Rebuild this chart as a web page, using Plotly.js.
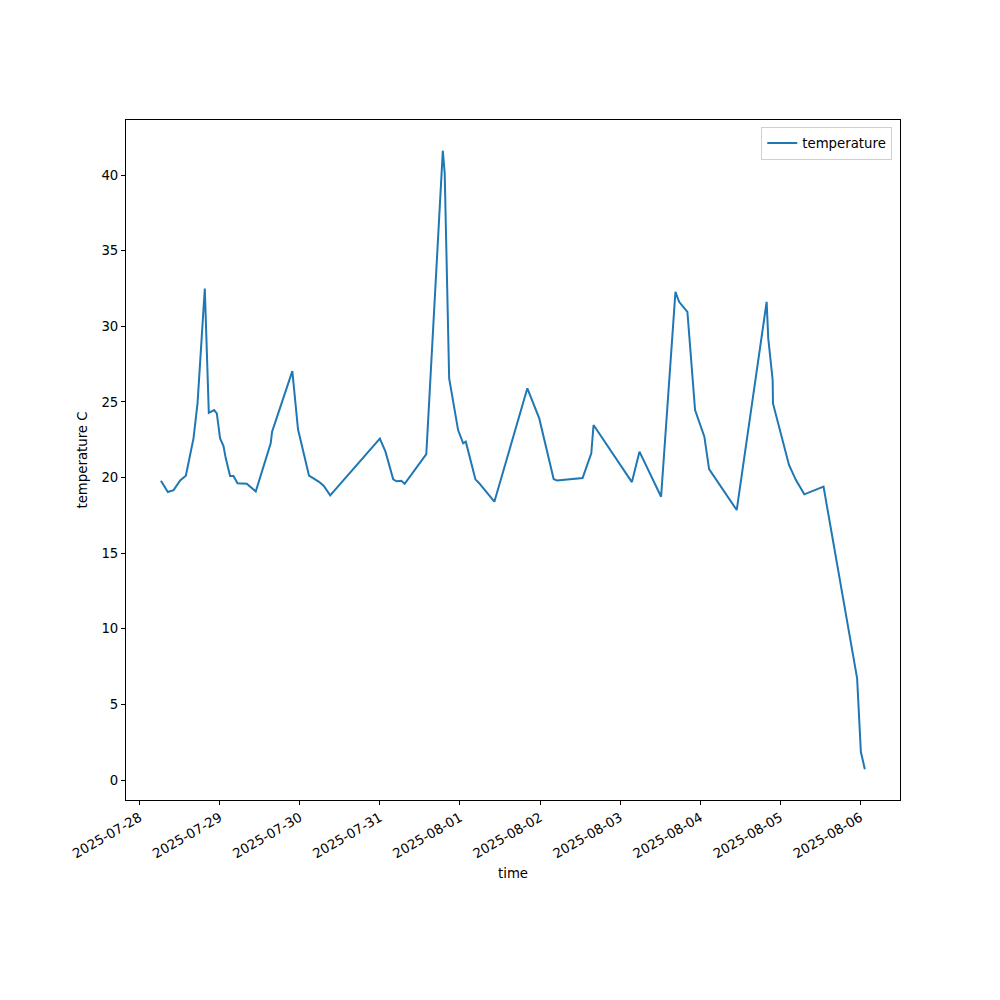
<!DOCTYPE html>
<html>
<head>
<meta charset="utf-8">
<script src="https://cdn.plot.ly/plotly-3.0.1.min.js"></script>
<style>html,body{margin:0;padding:0;background:#fff;}#chart{width:1000px;height:1000px;}</style>
</head>
<body>
<div id="chart"></div>
<script>
const times = [
  "2025-07-28 06:23","2025-07-28 08:28","2025-07-28 10:11","2025-07-28 12:09","2025-07-28 13:51",
  "2025-07-28 16:09","2025-07-28 17:21","2025-07-28 19:32","2025-07-28 20:44","2025-07-28 22:19",
  "2025-07-28 23:08","2025-07-29 00:07","2025-07-29 01:08","2025-07-29 01:49","2025-07-29 03:07",
  "2025-07-29 04:08","2025-07-29 05:20","2025-07-29 08:07","2025-07-29 10:48","2025-07-29 15:17",
  "2025-07-29 15:42","2025-07-29 21:46","2025-07-29 23:28","2025-07-30 02:46","2025-07-30 05:46",
  "2025-07-30 07:12","2025-07-30 09:07","2025-07-31 00:00","2025-07-31 01:41","2025-07-31 03:00",
  "2025-07-31 04:00","2025-07-31 05:02","2025-07-31 06:24","2025-07-31 07:26","2025-07-31 13:55",
  "2025-07-31 18:52","2025-07-31 19:26","2025-07-31 20:46","2025-07-31 23:27","2025-08-01 00:58",
  "2025-08-01 01:45","2025-08-01 04:38","2025-08-01 05:38","2025-08-01 10:19","2025-08-01 20:12",
  "2025-08-01 23:46","2025-08-02 04:05","2025-08-02 05:05","2025-08-02 12:45","2025-08-02 15:22",
  "2025-08-02 16:02","2025-08-03 03:32","2025-08-03 05:48","2025-08-03 12:17","2025-08-03 16:35",
  "2025-08-03 17:41","2025-08-03 20:10","2025-08-03 22:28","2025-08-04 01:15","2025-08-04 02:40",
  "2025-08-04 10:57","2025-08-04 19:55","2025-08-04 20:24","2025-08-04 21:43","2025-08-04 21:49",
  "2025-08-05 02:37","2025-08-05 04:06","2025-08-05 04:42","2025-08-05 07:12","2025-08-05 12:58",
  "2025-08-05 23:02","2025-08-06 00:09","2025-08-06 01:21"
];
const temperature = [
  19.79,19.04,19.17,19.81,20.12,
  22.59,24.9,32.5,24.28,24.46,
  24.24,22.59,22.08,21.27,20.1,
  20.1,19.62,19.59,19.08,22.26,
  23.03,27.04,23.19,20.12,19.72,
  19.44,18.82,22.57,21.71,20.6,
  19.88,19.75,19.79,19.59,21.55,
  41.61,40.1,26.56,23.14,22.26,
  22.37,19.88,19.66,18.4,25.9,
  23.91,19.9,19.81,19.97,21.6,
  23.47,19.7,21.71,18.73,32.28,
  31.62,30.96,24.46,22.7,20.56,
  17.85,31.62,29.2,26.45,24.9,
  20.83,20.06,19.83,18.89,19.4,
  6.72,1.87,0.71
];
const xTickVals = ["2025-07-28","2025-07-29","2025-07-30","2025-07-31","2025-08-01","2025-08-02","2025-08-03","2025-08-04","2025-08-05","2025-08-06"];
const yTickVals = [0,5,10,15,20,25,30,35,40];

const font = {family: "DejaVu Sans", size: 13.3, color: "#000"};
const trace = {
  x: times, y: temperature, type: "scatter", mode: "lines", name: "temperature",
  line: {color: "#1f77b4", width: 2}
};
const layout = {
  width: 1000, height: 1000,
  margin: {l: 126, r: 100, t: 120, b: 200, pad: 0},
  paper_bgcolor: "#fff", plot_bgcolor: "#fff",
  font: font,
  showlegend: true,
  legend: {x: 0.99, y: 0.99, xanchor: "right", yanchor: "top", bordercolor: "#d0d0d0", borderwidth: 1, bgcolor: "rgba(255,255,255,0.8)", font: font},
  xaxis: {
    type: "date",
    range: ["2025-07-27 19:55", "2025-08-06 11:53"],
    tickvals: xTickVals, ticktext: xTickVals,
    tickangle: -30,
    ticks: "outside", ticklen: 4, tickwidth: 1, tickcolor: "#000",
    showline: true, linecolor: "#000", linewidth: 1, mirror: true,
    showgrid: false, zeroline: false,
    tickfont: font,
    title: {text: "time", font: font, standoff: 8}
  },
  yaxis: {
    range: [-1.32, 43.64],
    tickvals: yTickVals,
    ticks: "outside", ticklen: 4, tickwidth: 1, tickcolor: "#000",
    showline: true, linecolor: "#000", linewidth: 1, mirror: true,
    showgrid: false, zeroline: false,
    tickfont: font,
    title: {text: "temperature C", font: font, standoff: 10}
  }
};
Plotly.newPlot("chart", [trace], layout, {displayModeBar: false, staticPlot: true});
</script>
</body>
</html>
